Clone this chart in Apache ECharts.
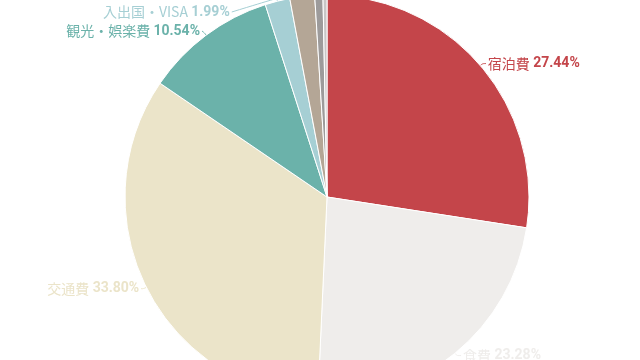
<!DOCTYPE html>
<html>
<head>
<meta charset="utf-8">
<script src="https://cdn.jsdelivr.net/npm/echarts@6/dist/echarts.min.js"></script>
<style>html,body{margin:0;padding:0;background:#fff;overflow:hidden;width:640px;height:360px}#c{width:640px;height:440px;margin-top:-60px}</style>
</head>
<body>
<div id="c"></div>
<script>
const categories = ['宿泊費', '食費', '交通費', '観光・娯楽費', '入出国・VISA', '通信費', '雑費', 'その他'];
const values = [27.44, 23.28, 33.80, 10.54, 1.99, 1.98, 0.65, 0.32];
const colors = ['#c4454a', '#efedeb', '#ebe4c9', '#6bb2aa', '#a6cfd4', '#b4a696', '#9d9b9b', '#c8c6c6'];

const CX = 327, CY = 257, R = 202, LABEL_R = 209;

const chart = echarts.init(document.getElementById('c'));
chart.setOption({
  animation: false,
  color: colors,
  series: [{
    type: 'pie',
    center: [CX, CY],
    radius: R,
    startAngle: 90,
    clockwise: true,
    avoidLabelOverlap: true,
    itemStyle: { borderColor: '#fff', borderWidth: 1 },
    label: {
      show: true,
      position: 'outside',
      formatter: p => '{b|' + p.name + '} {p|' + p.percent.toFixed(2) + '%}',
      color: 'inherit',
      textBorderColor: '#fff',
      textBorderWidth: 3,
      lineHeight: 13,
      rich: {
        b: { fontSize: 14, lineHeight: 13, fontFamily: '"Noto Sans CJK JP", Roboto', color: 'inherit', textBorderColor: '#fff', textBorderWidth: 3 },
        p: { fontSize: 14, lineHeight: 13, fontWeight: 'bold', fontFamily: 'Roboto', color: 'inherit', textBorderColor: '#fff', textBorderWidth: 3 }
      }
    },
    labelLine: { show: true, length: 3, length2: 2, smooth: true, lineStyle: { width: 1 } },
    labelLayout: function (p) {
      const r = p.labelRect;
      const yc = r.y + r.height / 2;
      const dy = yc - CY;
      const dx = Math.sqrt(Math.max(LABEL_R * LABEL_R - dy * dy, 0));
      const left = r.x + r.width / 2 < CX;
      const xEnd = left ? CX - dx : CX + dx;
      const p0 = p.labelLinePoints[0];
      const ang = Math.atan2(p0[1] - CY, p0[0] - CX);
      const p1 = [p0[0] + Math.cos(ang) * 3, p0[1] + Math.sin(ang) * 3];
      return {
        x: xEnd,
        y: yc,
        align: left ? 'right' : 'left',
        verticalAlign: 'middle',
        labelLinePoints: [p0, p1, [xEnd + (left ? 2 : -2), yc]]
      };
    },
    data: categories.map((n, i) => ({
      name: n,
      value: values[i],
      labelLine: i >= 4 ? { length: 40 } : (i === 3 ? { length: 12 } : undefined)
    }))
  }]
});
</script>
</body>
</html>
